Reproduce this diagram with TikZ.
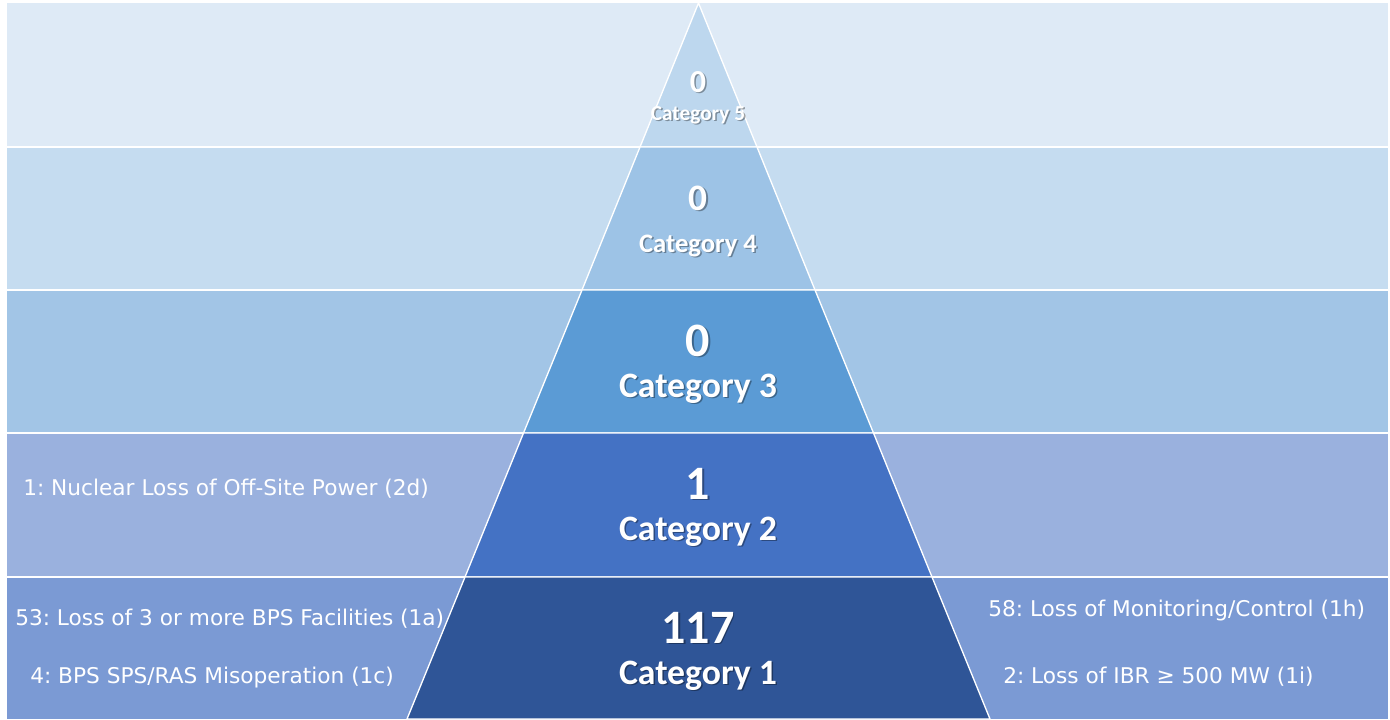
\documentclass[tikz,border=0pt]{standalone}
\usepackage{fontspec}
\setmainfont{Carlito}
\newfontfamily\sidefont{DejaVu Sans}
\definecolor{bandA}{HTML}{DEEAF6}
\definecolor{bandB}{HTML}{C5DCF0}
\definecolor{bandC}{HTML}{A2C5E6}
\definecolor{bandD}{HTML}{9AB1DE}
\definecolor{bandE}{HTML}{7B9AD4}
\definecolor{segA}{HTML}{BDD7EE}
\definecolor{segB}{HTML}{9DC3E6}
\definecolor{segC}{HTML}{5B9BD5}
\definecolor{segD}{HTML}{4472C4}
\definecolor{segE}{HTML}{2F5597}
\frenchspacing
\begin{document}
\begin{tikzpicture}[x=0.75pt,y=-0.75pt,
  sep/.style={draw=white, line width=1.2pt},
  seg/.style={draw=white, line width=1pt, line join=miter},
  ctext/.style={text=white, inner sep=0pt, anchor=base},
  cshadow/.style={text=black, opacity=0.35, inner sep=0pt, anchor=base},
  side/.style={text=white, inner sep=0pt, anchor=base west, font=\sidefont\fontsize{16.25}{19}\selectfont}]
\useasboundingbox (0,0) rectangle (1390,719);
\fill[white] (0,0) rectangle (1390,719);
% bands
\fill[bandA] (7,3) rectangle (1388,147);
\fill[bandB] (7,147) rectangle (1388,290);
\fill[bandC] (7,290) rectangle (1388,433);
\fill[bandD] (7,433) rectangle (1388,577);
\fill[bandE] (7,577) rectangle (1388,719);
\draw[sep] (7,147) -- (1388,147);
\draw[sep] (7,290) -- (1388,290);
\draw[sep] (7,433) -- (1388,433);
\draw[sep] (7,577) -- (1388,577);
% pyramid
\filldraw[seg, fill=segA] (698.5,3) -- (757,147) -- (640,147) -- cycle;
\filldraw[seg, fill=segB] (640,147) -- (757,147) -- (815,290) -- (582,290) -- cycle;
\filldraw[seg, fill=segC] (582,290) -- (815,290) -- (873.5,433) -- (523.5,433) -- cycle;
\filldraw[seg, fill=segD] (523.5,433) -- (873.5,433) -- (932,577) -- (465,577) -- cycle;
\filldraw[seg, fill=segE] (465,577) -- (932,577) -- (990,719) -- (407,719) -- cycle;
% center texts: shadows
\begin{scope}[shift={(1.5,1.5)}]
\node[cshadow, font=\bfseries\fontsize{24}{28}\selectfont] (n5s) at (698,92) {0};
\node[cshadow, font=\bfseries\fontsize{16}{19}\selectfont] (c5s) at (698,120) {Category 5};
\node[cshadow, font=\bfseries\fontsize{28}{32}\selectfont] (n4s) at (698,210) {0};
\node[cshadow, font=\bfseries\fontsize{20}{24}\selectfont] (c4s) at (698,252) {Category 4};
\node[cshadow, font=\bfseries\fontsize{36}{40}\selectfont] (n3s) at (698,356) {0};
\node[cshadow, font=\bfseries\fontsize{26.8}{30}\selectfont] (c3s) at (698,397) {Category 3};
\node[cshadow, font=\bfseries\fontsize{36}{40}\selectfont] (n2s) at (698,499) {1};
\node[cshadow, font=\bfseries\fontsize{26.8}{30}\selectfont] (c2s) at (698,540) {Category 2};
\node[cshadow, font=\bfseries\fontsize{36}{40}\selectfont] (n1s) at (698,643) {117};
\node[cshadow, font=\bfseries\fontsize{26.8}{30}\selectfont] (c1s) at (698,684) {Category 1};
\end{scope}
% center texts
\node[ctext, font=\bfseries\fontsize{24}{28}\selectfont] (n5) at (698,92) {0};
\node[ctext, font=\bfseries\fontsize{16}{19}\selectfont] (c5) at (698,120) {Category 5};
\node[ctext, font=\bfseries\fontsize{28}{32}\selectfont] (n4) at (698,210) {0};
\node[ctext, font=\bfseries\fontsize{20}{24}\selectfont] (c4) at (698,252) {Category 4};
\node[ctext, font=\bfseries\fontsize{36}{40}\selectfont] (n3) at (698,356) {0};
\node[ctext, font=\bfseries\fontsize{26.8}{30}\selectfont] (c3) at (698,397) {Category 3};
\node[ctext, font=\bfseries\fontsize{36}{40}\selectfont] (n2) at (698,499) {1};
\node[ctext, font=\bfseries\fontsize{26.8}{30}\selectfont] (c2) at (698,540) {Category 2};
\node[ctext, font=\bfseries\fontsize{36}{40}\selectfont] (n1) at (698,643) {117};
\node[ctext, font=\bfseries\fontsize{26.8}{30}\selectfont] (c1) at (698,684) {Category 1};
% side texts
\node[side] (s2d) at (23,495) {1: Nuclear Loss of Off-Site Power (2d)};
\node[side] (s1a) at (15,625) {53: Loss of 3 or more BPS Facilities (1a)};
\node[side] (s1c) at (30,683) {4: BPS SPS/RAS Misoperation (1c)};
\node[side] (s1h) at (988,616) {58: Loss of Monitoring/Control (1h)};
\node[side] (s1i) at (1003,683) {2: Loss of IBR ≥ 500 MW (1i)};
\end{tikzpicture}
\end{document}
